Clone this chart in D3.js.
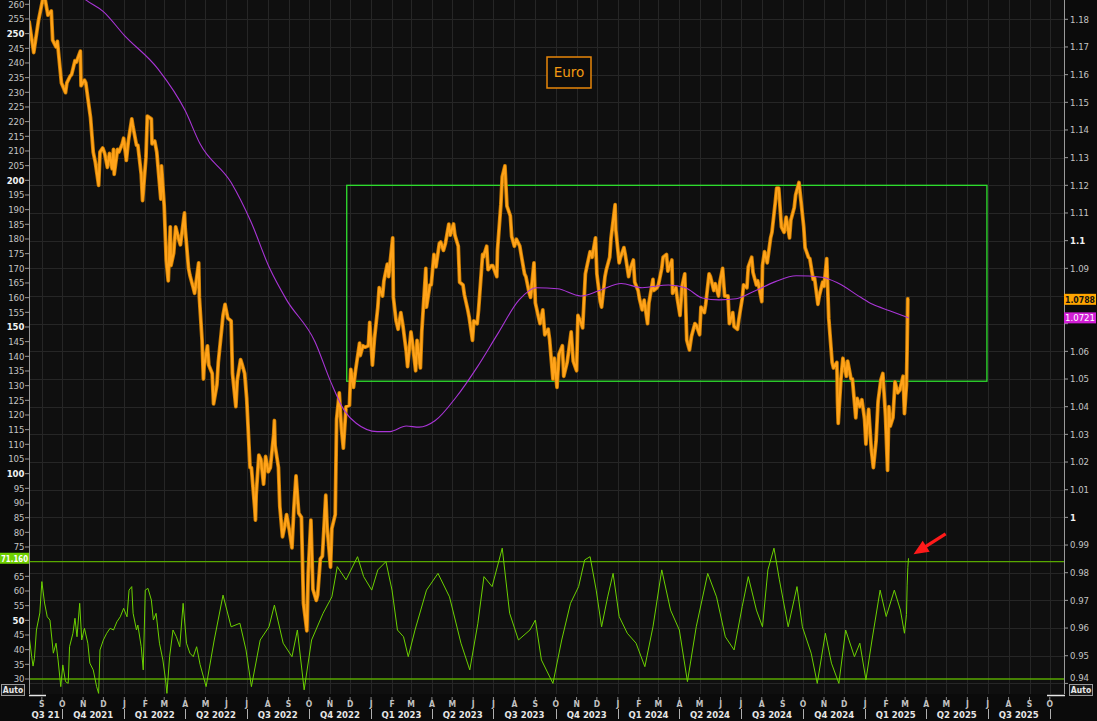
<!DOCTYPE html>
<html><head><meta charset="utf-8">
<script src="https://cdn.jsdelivr.net/npm/d3@7"></script>
<style>
html,body{margin:0;padding:0;background:#0b0b0b;overflow:hidden}
svg{display:block}
text{font-family:"DejaVu Sans Condensed","DejaVu Sans",sans-serif}
</style></head><body>
<svg id="c" width="1097" height="721"></svg>
<script>
// ---------------- DATA ----------------
const price = [
["2021-08-13",1.1795],["2021-08-20",1.1680],["2021-08-27",1.1795],["2021-09-03",1.1880],["2021-09-06",1.1870],
["2021-09-10",1.1815],["2021-09-15",1.1830],["2021-09-17",1.1725],["2021-09-22",1.1700],["2021-09-24",1.1720],
["2021-09-30",1.1570],["2021-10-06",1.1535],["2021-10-08",1.1570],["2021-10-13",1.1595],["2021-10-15",1.1600],
["2021-10-20",1.1650],["2021-10-22",1.1645],["2021-10-28",1.1685],["2021-10-29",1.1560],["2021-11-03",1.1580],
["2021-11-05",1.1570],["2021-11-10",1.1480],["2021-11-12",1.1445],["2021-11-16",1.1320],["2021-11-19",1.1285],
["2021-11-24",1.1200],["2021-11-26",1.1320],["2021-11-30",1.1335],["2021-12-03",1.1315],["2021-12-07",1.1265],
["2021-12-10",1.1315],["2021-12-14",1.1260],["2021-12-16",1.1330],["2021-12-17",1.1240],["2021-12-22",1.1330],
["2021-12-24",1.1320],["2021-12-29",1.1350],["2021-12-31",1.1370],
["2022-01-04",1.1290],["2022-01-07",1.1360],["2022-01-12",1.1440],["2022-01-14",1.1410],["2022-01-19",1.1345],
["2022-01-21",1.1345],["2022-01-26",1.1240],["2022-01-28",1.1145],["2022-02-02",1.1300],["2022-02-04",1.1450],
["2022-02-10",1.1440],["2022-02-11",1.1350],["2022-02-15",1.1360],["2022-02-18",1.1320],["2022-02-24",1.1150],
["2022-02-25",1.1270],["2022-03-01",1.1125],["2022-03-04",1.0930],["2022-03-07",1.0855],["2022-03-10",1.1050],
["2022-03-11",1.0910],["2022-03-15",1.0955],["2022-03-18",1.1050],["2022-03-23",1.1000],["2022-03-25",1.0985],
["2022-03-31",1.1100],["2022-04-01",1.1045],["2022-04-06",1.0900],["2022-04-08",1.0875],["2022-04-13",1.0830],
["2022-04-15",1.0810],["2022-04-21",1.0920],["2022-04-22",1.0795],["2022-04-26",1.0640],["2022-04-28",1.0500],
["2022-04-29",1.0545],["2022-05-04",1.0620],["2022-05-06",1.0550],["2022-05-11",1.0520],["2022-05-13",1.0410],
["2022-05-18",1.0480],["2022-05-20",1.0560],["2022-05-25",1.0680],["2022-05-27",1.0730],["2022-05-30",1.0770],
["2022-06-03",1.0720],["2022-06-08",1.0710],["2022-06-10",1.0520],["2022-06-15",1.0400],["2022-06-17",1.0495],
["2022-06-22",1.0570],["2022-06-24",1.0555],["2022-06-28",1.0520],["2022-07-01",1.0430],["2022-07-06",1.0180],
["2022-07-08",1.0180],["2022-07-13",1.0030],["2022-07-14",0.9990],["2022-07-15",1.0080],["2022-07-19",1.0225],
["2022-07-22",1.0210],["2022-07-26",1.0120],["2022-07-29",1.0220],["2022-08-02",1.0165],["2022-08-05",1.0180],
["2022-08-10",1.0300],["2022-08-11",1.0350],["2022-08-12",1.0260],["2022-08-17",1.0180],["2022-08-19",1.0040],
["2022-08-23",0.9930],["2022-08-26",0.9965],["2022-08-29",1.0010],["2022-09-02",0.9955],["2022-09-06",0.9890],
["2022-09-09",1.0040],["2022-09-12",1.0150],["2022-09-16",1.0015],["2022-09-20",1.0000],["2022-09-23",0.9690],
["2022-09-28",0.9590],["2022-09-30",0.9800],["2022-10-04",0.9990],["2022-10-07",0.9740],["2022-10-12",0.9700],
["2022-10-14",0.9720],["2022-10-18",0.9850],["2022-10-21",0.9860],["2022-10-26",1.0080],["2022-10-28",0.9965],
["2022-11-02",0.9820],["2022-11-04",0.9960],["2022-11-09",1.0010],["2022-11-11",1.0355],["2022-11-15",1.0450],
["2022-11-18",1.0325],["2022-11-21",1.0250],["2022-11-25",1.0400],["2022-11-30",1.0405],["2022-12-02",1.0535],
["2022-12-06",1.0470],["2022-12-09",1.0530],["2022-12-15",1.0630],["2022-12-16",1.0585],["2022-12-20",1.0620],
["2022-12-23",1.0615],["2022-12-28",1.0620],["2022-12-30",1.0705],
["2023-01-03",1.0550],["2023-01-06",1.0645],["2023-01-11",1.0760],["2023-01-13",1.0830],["2023-01-18",1.0800],
["2023-01-20",1.0855],["2023-01-25",1.0915],["2023-01-27",1.0870],["2023-02-02",1.1010],["2023-02-03",1.0795],
["2023-02-07",1.0710],["2023-02-10",1.0680],["2023-02-14",1.0740],["2023-02-17",1.0695],["2023-02-22",1.0600],
["2023-02-24",1.0545],["2023-03-01",1.0670],["2023-03-03",1.0635],["2023-03-08",1.0530],["2023-03-10",1.0640],
["2023-03-15",1.0540],["2023-03-17",1.0670],["2023-03-23",1.0900],["2023-03-24",1.0760],["2023-03-29",1.0840],
["2023-03-31",1.0840],["2023-04-04",1.0950],["2023-04-07",1.0905],["2023-04-12",1.0990],["2023-04-14",1.0995],
["2023-04-18",1.0965],["2023-04-21",1.0990],["2023-04-26",1.1060],["2023-04-28",1.1020],["2023-05-03",1.1060],
["2023-05-05",1.1020],["2023-05-10",1.0980],["2023-05-12",1.0850],["2023-05-17",1.0840],["2023-05-19",1.0805],
["2023-05-24",1.0750],["2023-05-26",1.0725],["2023-05-31",1.0640],["2023-06-02",1.0710],["2023-06-07",1.0700],
["2023-06-09",1.0750],["2023-06-15",1.0950],["2023-06-16",1.0940],["2023-06-21",1.0980],["2023-06-23",1.0895],
["2023-06-28",1.0910],["2023-06-30",1.0910],["2023-07-06",1.0870],["2023-07-07",1.0965],["2023-07-12",1.1130],
["2023-07-14",1.1230],["2023-07-18",1.1270],["2023-07-21",1.1125],["2023-07-26",1.1090],["2023-07-28",1.1015],
["2023-08-01",1.0980],["2023-08-04",1.1005],["2023-08-09",1.0980],["2023-08-11",1.0950],["2023-08-16",1.0880],
["2023-08-18",1.0870],["2023-08-23",1.0810],["2023-08-25",1.0795],["2023-08-30",1.0920],["2023-09-01",1.0775],
["2023-09-06",1.0720],["2023-09-08",1.0700],["2023-09-12",1.0750],["2023-09-15",1.0660],["2023-09-20",1.0680],
["2023-09-22",1.0645],["2023-09-27",1.0500],["2023-09-29",1.0575],["2023-10-03",1.0470],["2023-10-06",1.0590],
["2023-10-11",1.0620],["2023-10-13",1.0510],["2023-10-18",1.0560],["2023-10-20",1.0595],["2023-10-24",1.0670],
["2023-10-27",1.0565],["2023-11-01",1.0530],["2023-11-03",1.0730],["2023-11-08",1.0700],["2023-11-10",1.0685],
["2023-11-14",1.0880],["2023-11-17",1.0915],["2023-11-21",1.0960],["2023-11-24",1.0940],["2023-11-29",1.1010],
["2023-12-01",1.0880],["2023-12-06",1.0780],["2023-12-08",1.0760],["2023-12-13",1.0870],["2023-12-15",1.0895],
["2023-12-20",1.0940],["2023-12-22",1.1010],["2023-12-28",1.1130],["2023-12-29",1.1040],
["2024-01-03",1.0920],["2024-01-05",1.0940],["2024-01-10",1.0975],["2024-01-12",1.0950],["2024-01-17",1.0870],
["2024-01-19",1.0895],["2024-01-24",1.0930],["2024-01-26",1.0850],["2024-01-31",1.0820],["2024-02-02",1.0790],
["2024-02-06",1.0750],["2024-02-09",1.0785],["2024-02-14",1.0700],["2024-02-16",1.0775],["2024-02-22",1.0860],
["2024-02-23",1.0820],["2024-02-28",1.0830],["2024-03-01",1.0840],["2024-03-06",1.0900],["2024-03-08",1.0940],
["2024-03-13",1.0950],["2024-03-15",1.0890],["2024-03-21",1.0930],["2024-03-22",1.0810],["2024-03-27",1.0830],
["2024-03-29",1.0790],["2024-04-02",1.0730],["2024-04-05",1.0835],["2024-04-09",1.0880],["2024-04-12",1.0640],
["2024-04-16",1.0605],["2024-04-19",1.0655],["2024-04-24",1.0700],["2024-04-26",1.0695],["2024-05-01",1.0660],
["2024-05-03",1.0760],["2024-05-08",1.0740],["2024-05-10",1.0770],["2024-05-15",1.0880],["2024-05-17",1.0870],
["2024-05-22",1.0820],["2024-05-24",1.0845],["2024-05-29",1.0800],["2024-05-31",1.0850],["2024-06-04",1.0900],
["2024-06-07",1.0800],["2024-06-12",1.0800],["2024-06-14",1.0700],["2024-06-19",1.0740],["2024-06-21",1.0690],
["2024-06-26",1.0680],["2024-06-28",1.0715],["2024-07-03",1.0790],["2024-07-05",1.0840],["2024-07-10",1.0830],
["2024-07-12",1.0905],["2024-07-17",1.0940],["2024-07-19",1.0885],["2024-07-24",1.0840],["2024-07-26",1.0855],
["2024-08-01",1.0780],["2024-08-02",1.0910],["2024-08-05",1.0960],["2024-08-09",1.0920],["2024-08-14",1.1010],
["2024-08-16",1.1030],["2024-08-21",1.1140],["2024-08-23",1.1190],["2024-08-26",1.1190],["2024-08-30",1.1050],
["2024-09-03",1.1030],["2024-09-06",1.1085],["2024-09-11",1.1010],["2024-09-13",1.1075],["2024-09-18",1.1120],
["2024-09-20",1.1165],["2024-09-25",1.1210],["2024-09-27",1.1165],["2024-10-02",1.1050],["2024-10-04",1.0975],
["2024-10-09",1.0940],["2024-10-11",1.0935],["2024-10-16",1.0860],["2024-10-18",1.0865],["2024-10-23",1.0770],
["2024-10-25",1.0800],["2024-10-30",1.0850],["2024-11-01",1.0835],["2024-11-05",1.0935],["2024-11-08",1.0720],
["2024-11-13",1.0560],["2024-11-15",1.0540],["2024-11-20",1.0560],["2024-11-21",1.0420],["2024-11-22",1.0340],
["2024-11-26",1.0500],["2024-11-29",1.0575],["2024-12-04",1.0510],["2024-12-06",1.0565],["2024-12-11",1.0500],
["2024-12-13",1.0500],["2024-12-18",1.0360],["2024-12-20",1.0430],["2024-12-24",1.0400],["2024-12-27",1.0425],
["2024-12-31",1.0355],
["2025-01-02",1.0265],["2025-01-03",1.0310],["2025-01-06",1.0390],["2025-01-10",1.0245],["2025-01-13",1.0180],
["2025-01-17",1.0275],["2025-01-20",1.0420],["2025-01-24",1.0495],["2025-01-27",1.0520],["2025-01-31",1.0365],
["2025-02-03",1.0170],["2025-02-05",1.0400],["2025-02-07",1.0330],["2025-02-11",1.0360],["2025-02-14",1.0490],
["2025-02-18",1.0450],["2025-02-21",1.0460],["2025-02-26",1.0510],["2025-02-28",1.0375],["2025-03-03",1.0480],
["2025-03-04",1.0625],["2025-03-05",1.0790],["2025-03-06",1.0788]
];

const movingAvg = [
["2021-08-13",1.2005],["2021-09-15",1.1955],["2021-10-15",1.1915],["2021-11-05",1.1870],["2021-12-01",1.1828],
["2022-01-01",1.1742],["2022-02-20",1.1620],["2022-04-01",1.1470],["2022-04-23",1.1350],["2022-06-08",1.1210],
["2022-07-07",1.1070],["2022-08-04",1.0900],["2022-08-29",1.0786],["2022-10-10",1.0635],["2022-11-03",1.0486],
["2022-11-23",1.0384],["2022-12-10",1.0340],["2023-01-10",1.0310],["2023-01-29",1.0310],["2023-02-22",1.0330],
["2023-03-13",1.0326],["2023-04-06",1.0350],["2023-05-07",1.0435],["2023-06-07",1.0543],["2023-07-08",1.0666],
["2023-08-08",1.0786],["2023-09-02",1.0830],["2023-10-04",1.0826],["2023-11-07",1.0800],["2023-12-05",1.0820],
["2024-01-06",1.0845],["2024-02-06",1.0830],["2024-03-16",1.0840],["2024-04-10",1.0830],["2024-05-05",1.0793],
["2024-05-30",1.0786],["2024-06-24",1.0790],["2024-07-19",1.0815],["2024-08-21",1.0852],["2024-09-21",1.0873],
["2024-10-29",1.0868],["2024-11-23",1.0845],["2024-12-24",1.0797],["2025-01-12",1.0770],["2025-02-06",1.0747],
["2025-03-06",1.0721]
];

const rsi = [
["2021-08-13",45.0],["2021-08-17",37.6],["2021-08-19",34.4],["2021-08-21",37.0],["2021-08-24",46.7],["2021-08-29",52.5],
["2021-09-01",63.2],["2021-09-05",55.9],["2021-09-09",51.2],["2021-09-13",50.1],["2021-09-18",38.8],["2021-09-22",42.2],
["2021-09-25",36.5],["2021-09-29",27.4],["2021-10-02",34.8],["2021-10-06",29.1],["2021-10-10",28.5],["2021-10-12",41.0],
["2021-10-17",45.6],["2021-10-20",50.7],["2021-10-23",44.4],["2021-10-27",55.8],["2021-10-30",43.3],["2021-11-03",47.3],
["2021-11-08",42.2],["2021-11-11",35.4],["2021-11-16",33.1],["2021-11-21",27.4],["2021-11-24",25.1],["2021-11-26",39.9],
["2021-12-01",43.3],["2021-12-06",45.6],["2021-12-11",47.3],["2021-12-16",46.7],["2021-12-21",49.5],["2021-12-26",51.2],
["2021-12-31",54.1],["2022-01-05",51.2],["2022-01-08",60.3],["2022-01-12",61.5],["2022-01-14",52.4],["2022-01-19",46.7],
["2022-01-21",48.4],["2022-01-26",41.0],["2022-01-29",33.1],["2022-02-01",60.3],["2022-02-05",60.9],["2022-02-10",56.9],
["2022-02-13",50.1],["2022-02-17",52.4],["2022-02-22",42.2],["2022-02-27",36.5],["2022-03-03",29.7],["2022-03-05",25.1],
["2022-03-09",37.6],["2022-03-14",46.7],["2022-03-19",44.4],["2022-03-24",41.0],["2022-03-29",55.8],["2022-04-03",42.2],
["2022-04-08",38.8],["2022-04-13",37.6],["2022-04-18",41.0],["2022-04-23",35.0],["2022-05-02",27.4],["2022-05-14",43.3],
["2022-05-27",58.6],["2022-06-08",47.8],["2022-06-21",49.0],["2022-06-30",39.9],["2022-07-08",27.4],["2022-07-21",43.3],
["2022-08-03",47.8],["2022-08-11",55.2],["2022-08-24",42.2],["2022-09-06",37.6],["2022-09-14",46.7],["2022-09-24",26.3],
["2022-10-05",43.3],["2022-10-22",52.4],["2022-11-04",58.0],["2022-11-12",68.3],["2022-11-25",63.8],["2022-12-12",71.7],
["2022-12-21",64.9],["2023-01-02",60.3],["2023-01-11",67.2],["2023-01-23",70.0],["2023-02-01",60.3],["2023-02-09",46.7],
["2023-02-18",44.4],["2023-02-25",37.6],["2023-03-07",46.7],["2023-03-24",60.3],["2023-04-10",66.0],["2023-04-27",58.0],
["2023-05-14",42.2],["2023-05-27",33.1],["2023-06-08",49.0],["2023-06-17",64.9],["2023-06-29",61.5],["2023-07-14",74.6],
["2023-07-25",52.4],["2023-08-07",43.3],["2023-08-24",46.7],["2023-09-01",50.1],["2023-09-10",36.5],["2023-09-27",28.5],
["2023-10-10",43.3],["2023-10-23",55.8],["2023-11-04",61.5],["2023-11-13",70.6],["2023-11-21",71.7],["2023-11-30",60.3],
["2023-12-08",47.8],["2023-12-17",58.0],["2023-12-25",66.0],["2024-01-03",51.3],["2024-01-15",45.6],["2024-01-28",42.2],
["2024-02-10",34.2],["2024-02-22",47.8],["2024-03-06",67.2],["2024-03-19",53.5],["2024-04-01",46.7],["2024-04-13",29.1],
["2024-04-26",47.8],["2024-05-13",66.0],["2024-05-26",58.0],["2024-06-08",44.4],["2024-06-21",39.9],["2024-07-03",54.7],
["2024-07-12",64.9],["2024-07-24",53.5],["2024-08-02",47.8],["2024-08-10",67.2],["2024-08-19",74.6],["2024-08-27",63.8],
["2024-09-09",47.8],["2024-09-22",61.5],["2024-09-30",47.8],["2024-10-13",38.8],["2024-10-22",28.5],["2024-11-03",45.6],
["2024-11-12",35.4],["2024-11-23",28.5],["2024-12-03",46.7],["2024-12-16",37.6],["2024-12-24",42.2],["2025-01-02",29.7],
["2025-01-11",43.3],["2025-01-23",60.3],["2025-02-01",51.3],["2025-02-13",60.3],["2025-02-22",53.5],["2025-02-28",45.6],
["2025-03-03",52.0],["2025-03-04",62.0],["2025-03-05",68.0],["2025-03-06",71.16]
];

const rangeBox = {start:"2022-11-26", end:"2025-06-30", top:1.12, bottom:1.0492};
const rsiLevels = [70, 30];

const leftTicks = [30,35,40,45,50,55,60,65,70,75,80,85,90,95,100,105,110,115,120,125,130,135,140,145,150,155,160,165,170,175,180,185,190,195,200,205,210,215,220,225,230,235,240,245,250,255,260];
const leftBold = [50,100,150,200,250];
const rightTicks = [0.94,0.95,0.96,0.97,0.98,0.99,1.00,1.01,1.02,1.03,1.04,1.05,1.06,1.07,1.08,1.09,1.10,1.11,1.12,1.13,1.14,1.15,1.16,1.17,1.18];
const rightBold = [1.00,1.10];
const monthLetters = ["J","F","M","A","M","J","J","A","S","O","N","D"];
const quarterLabels = ["Q3 21","Q4 2021","Q1 2022","Q2 2022","Q3 2022","Q4 2022","Q1 2023","Q2 2023","Q3 2023","Q4 2023","Q1 2024","Q2 2024","Q3 2024","Q4 2024","Q1 2025","Q2 2025","Q3 2025"];
const legendLabel = "Euro";

// ---------------- LAYOUT ----------------
const L=29, R=1064, T=0, B=694;
const parse = d3.utcParse("%Y-%m-%d");
const x = d3.scaleUtc().domain([Date.UTC(2021,7,13), Date.UTC(2025,9,22)]).range([L,R]);
const yP = d3.scaleLinear().domain([0.94,1.18]).range([683.4,19.3]);
const yL = d3.scaleLinear().domain([30,260]).range([679,4.3]);

const lastP = price[price.length-1], lastMA = movingAvg[movingAvg.length-1], lastR = rsi[rsi.length-1];

const svg = d3.select("#c");
svg.append("rect").attr("width",1097).attr("height",721).attr("fill","#0b0b0b");
svg.append("rect").attr("x",L).attr("y",T).attr("width",R-L).attr("height",B-T).attr("fill","#0f0f0f");

const defs = svg.append("defs");
defs.append("clipPath").attr("id","plot").append("rect").attr("x",L).attr("y",T).attr("width",R-L).attr("height",B-T);

const grid = svg.append("g").attr("clip-path","url(#plot)");
const months = d3.utcMonth.range(Date.UTC(2021,7,1), Date.UTC(2025,10,1));
grid.selectAll("line.v").data(months).enter().append("line")
  .attr("x1",d=>Math.round(x(d))+0.5).attr("x2",d=>Math.round(x(d))+0.5).attr("y1",T).attr("y2",B)
  .attr("stroke","#262626").attr("stroke-width",1);
grid.selectAll("line.h").data(rightTicks).enter().append("line")
  .attr("x1",L).attr("x2",R).attr("y1",d=>Math.round(yP(d))+0.5).attr("y2",d=>Math.round(yP(d))+0.5)
  .attr("stroke","#262626").attr("stroke-width",1);

const plot = svg.append("g").attr("clip-path","url(#plot)");

// range box
plot.append("rect")
  .attr("x",x(parse(rangeBox.start))).attr("y",yP(rangeBox.top))
  .attr("width",x(parse(rangeBox.end))-x(parse(rangeBox.start)))
  .attr("height",yP(rangeBox.bottom)-yP(rangeBox.top))
  .attr("fill","none").attr("stroke","#2fe02f").attr("stroke-width",1.3);

// RSI levels
plot.selectAll("line.lvl").data(rsiLevels).enter().append("line")
  .attr("x1",L).attr("x2",R).attr("y1",d=>yL(d)).attr("y2",d=>yL(d))
  .attr("stroke","#58a800").attr("stroke-width",1.4);

// RSI
const rsiLine = d3.line().x(d=>x(parse(d[0]))).y(d=>yL(d[1]));
plot.append("path").datum(rsi).attr("d",rsiLine).attr("fill","none")
  .attr("stroke","#6bd000").attr("stroke-width",1).attr("stroke-linejoin","round");

// price
const pLine = d3.line().x(d=>x(parse(d[0]))).y(d=>yP(d[1]));
plot.append("path").datum(price).attr("d",pLine).attr("fill","none")
  .attr("stroke","#c97b00").attr("stroke-width",3.8).attr("stroke-linejoin","round");
plot.append("path").datum(price).attr("d",pLine).attr("fill","none")
  .attr("stroke","#ffa31a").attr("stroke-width",2.2).attr("stroke-linejoin","round");

// moving average
const maLine = d3.line().x(d=>x(parse(d[0]))).y(d=>yP(d[1])).curve(d3.curveMonotoneX);
plot.append("path").datum(movingAvg).attr("d",maLine).attr("fill","none")
  .attr("stroke","#a935d6").attr("stroke-width",1.1);

// axis lines
svg.append("line").attr("x1",L+0.5).attr("x2",L+0.5).attr("y1",0).attr("y2",B).attr("stroke","#9a9a9a");
svg.append("line").attr("x1",R+0.5).attr("x2",R+0.5).attr("y1",0).attr("y2",B).attr("stroke","#9a9a9a");
svg.append("line").attr("x1",L).attr("x2",46).attr("y1",B+1.5).attr("y2",B+1.5).attr("stroke","#e8e8e8").attr("stroke-width",1.5);
svg.append("line").attr("x1",1047).attr("x2",R+1).attr("y1",B+1.5).attr("y2",B+1.5).attr("stroke","#e8e8e8").attr("stroke-width",1.5);

// left axis (label hidden where the value tag sits)
const lg = svg.append("g");
lg.selectAll("line").data(leftTicks).enter().append("line")
  .attr("x1",L-4).attr("x2",L).attr("y1",d=>yL(d)).attr("y2",d=>yL(d)).attr("stroke","#9a9a9a");
lg.selectAll("text").data(leftTicks.filter(d=>Math.abs(yL(d)-yL(lastR[1]))>6)).enter().append("text")
  .attr("x",L-4.5).attr("y",d=>yL(d)).attr("dy","0.35em").attr("text-anchor","end")
  .attr("font-size",9.5)
  .attr("font-weight",d=>leftBold.includes(d)?"bold":"normal")
  .attr("fill",d=>leftBold.includes(d)?"#f2f2f2":"#c4c4c4")
  .text(d=>d);

// right axis (label hidden where the price tag sits)
const rg = svg.append("g");
rg.selectAll("line").data(rightTicks).enter().append("line")
  .attr("x1",R).attr("x2",R+4).attr("y1",d=>yP(d)).attr("y2",d=>yP(d)).attr("stroke","#9a9a9a");
rg.selectAll("text").data(rightTicks.filter(d=>Math.abs(yP(d)-yP(lastP[1]))>6 && Math.abs(yP(d)-yP(lastMA[1]))>6.5)).enter().append("text")
  .attr("x",R+6).attr("y",d=>Math.min(yP(d),678)).attr("dy","0.35em").attr("text-anchor","start")
  .attr("font-size",9.5)
  .attr("font-weight",d=>rightBold.some(b=>Math.abs(b-d)<1e-9)?"bold":"normal")
  .attr("fill",d=>rightBold.some(b=>Math.abs(b-d)<1e-9)?"#f2f2f2":"#c4c4c4")
  .text(d=>String(+d.toFixed(2)));

// bottom axis: months
const ax = svg.append("g");
const mTicks = d3.utcMonth.range(Date.UTC(2021,8,1), Date.UTC(2025,9,2));
ax.selectAll("line.mt").data(mTicks).enter().append("line")
  .attr("x1",d=>x(d)).attr("x2",d=>x(d)).attr("y1",B+3).attr("y2",B+6).attr("stroke","#8a8a8a");
ax.selectAll("text.m").data(mTicks).enter().append("text")
  .attr("x",d=>x(d)).attr("y",706.5).attr("text-anchor","middle")
  .attr("font-size",8.5).attr("font-weight","bold").attr("fill","#c2c2c2")
  .text(d=>monthLetters[d.getUTCMonth()]);

// quarters
const qStarts = d3.utcMonth.every(3).range(Date.UTC(2021,6,1), Date.UTC(2025,9,1));
qStarts.forEach((q,i)=>{
  const qe = d3.utcMonth.offset(q,3);
  const a = Math.max(x(q),L), b = Math.min(x(qe),R);
  ax.append("text").attr("x",(a+b)/2).attr("y",718).attr("text-anchor","middle")
    .attr("font-size",9.5).attr("font-weight","bold").attr("fill","#e6e6e6")
    .text(quarterLabels[i]);
  if (x(qe) < R) {
    ax.append("line").attr("x1",Math.round(x(qe))+0.5).attr("x2",Math.round(x(qe))+0.5)
      .attr("y1",709).attr("y2",719).attr("stroke","#b0b0b0");
  }
});

// value tags
function tag(xx, yy, w, bg, fg, txt, bold){
  const g = svg.append("g");
  g.append("rect").attr("x",xx).attr("y",yy-5.5).attr("width",w).attr("height",11).attr("fill",bg);
  g.append("text").attr("x",xx+1).attr("y",yy).attr("dy","0.36em")
    .attr("text-anchor","start").attr("font-size",9.5).attr("font-weight",bold?"bold":"normal")
    .attr("textLength",w-2).attr("lengthAdjust","spacingAndGlyphs")
    .attr("fill",fg).text(txt);
}
tag(R, yP(lastP[1]), 32, "#ffa500", "#111", lastP[1].toFixed(4), true);
tag(R, yP(lastMA[1]), 32, "#d21fd6", "#ffffff", lastMA[1].toFixed(4), false);
tag(0, yL(lastR[1]), L, "#6fd000", "#ffffff", lastR[1].toFixed(3), true);

// Auto boxes
function autoBox(xx,yy){
  svg.append("rect").attr("x",xx+0.5).attr("y",yy+0.5).attr("width",23).attr("height",11)
    .attr("fill","#1a1a1a").attr("stroke","#9a9a9a");
  svg.append("text").attr("x",xx+12).attr("y",yy+6.5).attr("dy","0.35em").attr("text-anchor","middle")
    .attr("font-size",8.5).attr("font-weight","bold").attr("fill","#e8e8e8").text("Auto");
}
autoBox(1,684);
autoBox(1069,684);

// legend
const lgx = 547, lgy = 57;
svg.append("rect").attr("x",lgx).attr("y",lgy).attr("width",44).attr("height",31)
  .attr("fill","#0d0d0d").attr("stroke","#e8870a").attr("stroke-width",1.5);
svg.append("text").attr("x",lgx+22).attr("y",lgy+15.5).attr("dy","0.35em").attr("text-anchor","middle")
  .attr("font-size",13.5).attr("fill","#f29a12").style("font-family","'DejaVu Sans',sans-serif").text(legendLabel);

// red arrow pointing to last RSI value
const tipX = x(parse(lastR[0]))+5, tipY = yL(lastR[1])-4;
const ang = Math.atan2(tipY-533, tipX-947);
const tailX = tipX - Math.cos(ang)*38, tailY = tipY - Math.sin(ang)*38;
svg.append("line").attr("x1",tailX).attr("y1",tailY)
  .attr("x2",tipX - Math.cos(ang)*10).attr("y2",tipY - Math.sin(ang)*10)
  .attr("stroke","#ff1a1a").attr("stroke-width",3.2);
const hl = 15, hw = 6.5;
const bx = tipX - Math.cos(ang)*hl, by = tipY - Math.sin(ang)*hl;
const px = -Math.sin(ang), py = Math.cos(ang);
svg.append("path").attr("d",`M${tipX},${tipY}L${bx+px*hw},${by+py*hw}L${bx-px*hw},${by-py*hw}Z`).attr("fill","#ff1a1a");
</script>
</body></html>
